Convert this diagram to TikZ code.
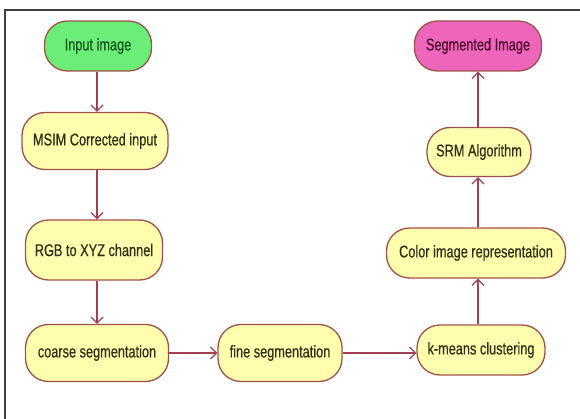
\documentclass[tikz,border=0pt]{standalone}
\usepackage{fontspec}
\setmainfont[FakeStretch=0.75,FakeBold=0.6]{Liberation Sans}
\usetikzlibrary{arrows.meta}
\definecolor{bordc}{HTML}{A0504A}
\definecolor{arrc}{HTML}{A04050}
\definecolor{yelc}{HTML}{FFFFAE}
\definecolor{grnc}{HTML}{6AEE78}
\definecolor{pnkc}{HTML}{EE66BB}
\definecolor{txtc}{HTML}{303018}
\definecolor{grntxt}{HTML}{1A5A20}
\definecolor{pnktxt}{HTML}{501030}
\tikzset{
  stepbox/.style={draw=bordc, line width=1.3pt, fill=yelc, rounded corners=23pt,
    inner sep=0pt, font=\fontsize{17}{20}\selectfont, text=txtc},
  flow/.style={draw=arrc, line width=1.3pt, -{Straight Barb[length=6pt,width=12pt,line width=1.2pt]}}
}
\begin{document}
\begin{tikzpicture}[x=1pt,y=-1pt]
\useasboundingbox (0,0) rectangle (580,419);
\fill[white] (0,0) rectangle (580,419);
\draw[line width=2.2pt, color=black!75] (5,430) -- (5,10) -- (590,10);
% left column
\node[stepbox, fill=grnc, text=grntxt, minimum width=107pt, minimum height=50pt] (in) at (98,46) {Input image};
\node[stepbox, minimum width=146pt, minimum height=57pt] (msim) at (95,141) {MSIM Corrected input};
\node[stepbox, minimum width=137pt, minimum height=60pt] (rgb) at (94,250) {RGB to XYZ channel};
\node[stepbox, minimum width=143pt, minimum height=57pt] (coarse) at (97,353) {coarse segmentation};
\node[stepbox, minimum width=124pt, minimum height=57pt] (fine) at (280,353) {fine segmentation};
% right column
\node[stepbox, minimum width=128pt, minimum height=50pt] (km) at (481,350) {k-means clustering};
\node[stepbox, minimum width=179pt, minimum height=50pt] (color) at (476,253) {Color image representation};
\node[stepbox, minimum width=104pt, minimum height=49pt] (srm) at (479,152) {SRM Algorithm};
\node[stepbox, fill=pnkc, text=pnktxt, minimum width=127pt, minimum height=50pt] (seg) at (478,46) {Segmented Image};
% connectors
\coordinate (x1) at (97,0);
\coordinate (x2) at (478,0);
\draw[flow] (in.south -| x1) -- (msim.north -| x1);
\draw[flow] (msim.south -| x1) -- (rgb.north -| x1);
\draw[flow] (rgb.south -| x1) -- (coarse.north -| x1);
\draw[flow] (coarse.east) -- (fine.west);
\draw[flow] (fine.east) -- (km.west |- fine.east);
\draw[flow] (km.north -| x2) -- (color.south -| x2);
\draw[flow] (color.north -| x2) -- (srm.south -| x2);
\draw[flow] (srm.north -| x2) -- (seg.south -| x2);
\end{tikzpicture}
\end{document}
